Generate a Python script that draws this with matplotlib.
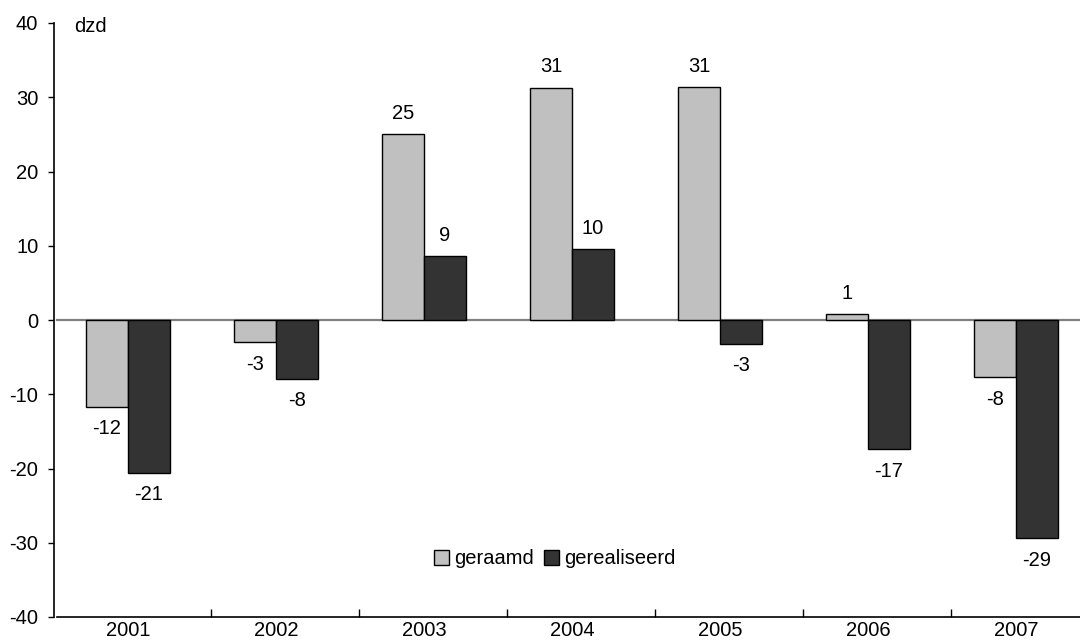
import numpy as np
import matplotlib
matplotlib.use("Agg")
import matplotlib.pyplot as plt

plt.rcParams['font.family'] = ['Liberation Sans', 'DejaVu Sans']

years = ['2001', '2002', '2003', '2004', '2005', '2006', '2007']
geraamd = [-11.7, -3.0, 25.0, 31.3, 31.4, 0.8, -7.7]
gerealiseerd = [-20.6, -7.9, 8.6, 9.6, -3.2, -17.4, -29.4]
series_names = ['geraamd', 'gerealiseerd']
unit_label = 'dzd'
y_ticks = [-40, -30, -20, -10, 0, 10, 20, 30, 40]

light = '#c0c0c0'
dark = '#333333'
fs = 14.5

fig = plt.figure(figsize=(10.8, 6.43), dpi=100)
ax = fig.add_axes([54 / 1080, 26 / 643, 1036 / 1080, 594 / 643])

x = np.arange(len(years))
w = 0.284

ax.axhline(0, xmin=3 / 1036, xmax=1, color='#808080', lw=1.6, zorder=1)

b1 = ax.bar(x - w / 2, geraamd, w, color=light, edgecolor='black', lw=1.0,
            zorder=2, label=series_names[0])
b2 = ax.bar(x + w / 2, gerealiseerd, w, color=dark, edgecolor='black', lw=1.0,
            zorder=2, label=series_names[1])

for bars, vals in ((b1, geraamd), (b2, gerealiseerd)):
    for rect, v in zip(bars, vals):
        cx = rect.get_x() + rect.get_width() / 2
        if v >= 0:
            ax.annotate(f"{v:.0f}", (cx, v), xytext=(0, 8), textcoords='offset points',
                        ha='center', va='bottom', fontsize=fs)
        else:
            ax.annotate(f"{v:.0f}", (cx, v), xytext=(0, -9), textcoords='offset points',
                        ha='center', va='top', fontsize=fs)

ax.set_xlim(-0.5, len(years) - 0.5)
ax.set_ylim(-40, 40)
ax.set_yticks(y_ticks)
ax.set_yticklabels([str(t) for t in y_ticks], fontsize=fs)
ax.tick_params(axis='y', direction='out', length=4.3, width=1, pad=7)

ax.set_xticks(x)
ax.set_xticklabels(years, fontsize=fs)
ax.tick_params(axis='x', which='major', length=0, pad=3)
ax.set_xticks(x[:-1] + 0.56, minor=True)
ax.tick_params(axis='x', which='minor', direction='in', length=6, width=1)

for s in ('top', 'right'):
    ax.spines[s].set_visible(False)
ax.spines['left'].set_linewidth(1.2)
ax.spines['bottom'].set_linewidth(1.2)
ax.spines['bottom'].set_bounds(-0.5 + 3 / 148, len(years) - 0.5)

fig.text(74 / 1080, 1 - 32 / 643, unit_label, fontsize=fs, ha='left', va='baseline')

ax.legend(loc='center', bbox_to_anchor=(0.483, 0.098), ncol=2, frameon=False,
          fontsize=fs, handlelength=0.75, handleheight=0.75, handletextpad=0.25,
          columnspacing=0.5, borderpad=0)

fig.savefig('out.png', dpi=100)
